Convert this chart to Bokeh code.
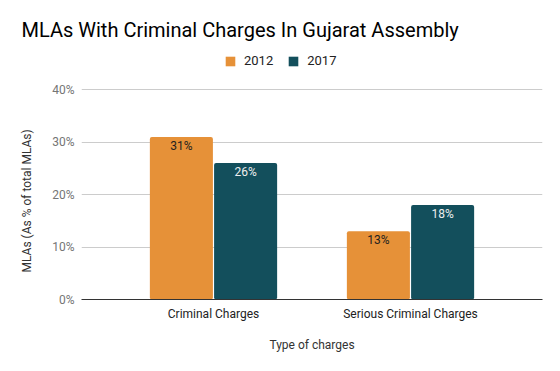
from bokeh.plotting import figure
from bokeh.models import (ColumnDataSource, Range1d, FactorRange, FixedTicker,
                          PrintfTickFormatter, Legend, LegendItem, LabelSet, Title)
from bokeh.core.properties import value
from bokeh.transform import dodge
from bokeh.embed import file_html
from bokeh.resources import INLINE

categories = ["Criminal Charges", "Serious Criminal Charges"]
years = ["2012", "2017"]
values_2012 = [31, 13]
values_2017 = [26, 18]
y_ticks = [0, 10, 20, 30, 40]

title_text = "MLAs With Criminal Charges In Gujarat Assembly"
x_title = "Type of charges"
y_title = "MLAs (As % of total MLAs)"

colors = {"2012": "#e69138", "2017": "#134f5c"}
label_colors = {"2012": "#1f1f1f", "2017": "#eeeeee"}
FONT = "Roboto"

source = ColumnDataSource(data=dict(
    cat=categories,
    v2012=values_2012,
    v2017=values_2017,
    t2012=[f"{v}%" for v in values_2012],
    t2017=[f"{v}%" for v in values_2017],
))

# frame extends above the 40% gridline to host the legend
p = figure(
    width=560, height=371,
    x_range=FactorRange(*categories, range_padding=0.17),
    y_range=Range1d(0, 48.425),
    output_backend="svg", toolbar_location=None,
    min_border_left=81, min_border_right=18,
    min_border_top=45, min_border_bottom=72,
)
p.outline_line_color = None
p.background_fill_color = "white"
p.border_fill_color = "white"

p.title.text = title_text
p.title.text_font = FONT
p.title.text_font_size = "20px"
p.title.text_font_style = "normal"
p.title.text_color = "#000000"
p.title.align = "left"
p.title.offset = -60
p.title.standoff = 8

offset = 0.163
width = 0.32
renderers = {}
for yr, off in zip(years, [-offset, offset]):
    r = p.vbar(x=dodge("cat", off, range=p.x_range), top="v" + yr, width=width,
               source=source, fill_color=colors[yr], line_color=None,
               border_radius=2)
    renderers[yr] = r
    labels = LabelSet(x=dodge("cat", off, range=p.x_range), y="v" + yr, text="t" + yr,
                      source=source, y_offset=-9, text_align="center",
                      text_baseline="middle", text_font_size="12px",
                      text_font=value(FONT), text_color=label_colors[yr])
    p.add_layout(labels)

legend = Legend(items=[LegendItem(label=yr, renderers=[renderers[yr]]) for yr in years],
                orientation="horizontal", location=(143, 231),
                glyph_width=12, glyph_height=12, label_height=12,
                label_standoff=8, spacing=14, padding=0, margin=0,
                border_line_color=None, background_fill_alpha=0,
                label_text_font_size="13px", label_text_color="#222222")
legend.label_text_font = FONT
p.add_layout(legend, "center")

# axes
p.yaxis.ticker = FixedTicker(ticks=y_ticks)
p.yaxis.formatter = PrintfTickFormatter(format="%d%%")
p.yaxis.axis_line_color = None
p.yaxis.major_tick_line_color = None
p.yaxis.minor_tick_line_color = None
p.yaxis.major_tick_out = 0
p.yaxis.major_label_standoff = 7
p.yaxis.major_label_text_font = FONT
p.yaxis.major_label_text_font_size = "12px"
p.yaxis.major_label_text_color = "#757575"

# y-axis title: a side title, so it can sit beside the 0-40% part of the axis
y_label = Title(text=y_title, align="left", offset=27, standoff=32,
                text_font=FONT, text_font_size="12px", text_font_style="normal",
                text_color="#333333")
p.add_layout(y_label, "left")

p.xaxis.axis_line_color = "#333333"
p.xaxis.major_tick_line_color = None
p.xaxis.minor_tick_line_color = None
p.xaxis.major_tick_out = 0
p.xaxis.major_label_standoff = 7
p.xaxis.major_label_text_font = FONT
p.xaxis.major_label_text_font_size = "12px"
p.xaxis.major_label_text_color = "#222222"
p.xaxis.axis_label = x_title
p.xaxis.axis_label_text_font = FONT
p.xaxis.axis_label_text_font_size = "12px"
p.xaxis.axis_label_text_font_style = "normal"
p.xaxis.axis_label_text_color = "#333333"
p.xaxis.axis_label_standoff = 14

p.xgrid.grid_line_color = None
p.ygrid.grid_line_color = "#cccccc"
p.ygrid.grid_line_width = 1

open("out.html", "w").write(file_html(p, INLINE))
